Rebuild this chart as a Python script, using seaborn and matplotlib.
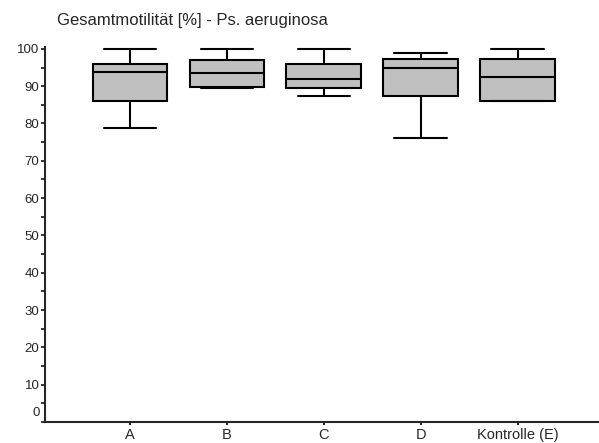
import numpy as np
import pandas as pd
import seaborn as sns
import matplotlib
matplotlib.use("Agg")
import matplotlib.pyplot as plt
import matplotlib.transforms as mtransforms

categories = ["A", "B", "C", "D", "Kontrolle (E)"]
whisker_low = [78.7, 89.8, 87.5, 76.1, 86.0]
q1 = [86.0, 89.5, 89.4, 87.4, 86.0]
median = [93.9, 93.5, 91.9, 94.9, 92.4]
q3 = [95.9, 96.9, 96.0, 97.4, 97.3]
whisker_high = [100.0, 100.0, 100.0, 98.8, 100.0]
yticks = [0, 10, 20, 30, 40, 50, 60, 70, 80, 90, 100]
title = "Gesamtmotilität [%] - Ps. aeruginosa"

rows = []
for c, a, b, m, d, e in zip(categories, whisker_low, q1, median, q3, whisker_high):
    for v in (a, b, m, d, e):
        rows.append({"group": c, "value": v})
df = pd.DataFrame(rows)

sns.set_style("ticks")
plt.rcParams["font.family"] = ["Liberation Sans", "DejaVu Sans"]

fig = plt.figure(figsize=(5.99, 4.43), dpi=100)
ax = fig.add_axes([45 / 599, 1 - 422 / 443, 1 - 45 / 599, (422 - 47) / 443])

sns.boxplot(data=df, x="group", y="value", order=categories, whis=(0, 100),
            width=0.77, color="#c0c0c0", linecolor="black", linewidth=1.5,
            fill=True, saturation=1, capwidths=0.54, ax=ax,
            medianprops={"color": "black", "linewidth": 1.5})
for p in ax.patches:
    p.set_facecolor("#c0c0c0")

ax.set_xlim(-0.876, 4.84)
ax.set_ylim(0, 100.5)
ax.set_yticks(yticks)
ax.set_yticks(np.arange(5, 100, 10), minor=True)
ax.set_yticklabels([str(t) for t in yticks])
ax.tick_params(axis="y", which="both", length=3, width=1.3, direction="out", labelsize=9.5, pad=1)
ax.tick_params(axis="x", length=2.5, width=1.5, direction="out", labelsize=10.5, pad=2)
ax.set_xlabel("")
ax.set_ylabel("")
for s in ["top", "right"]:
    ax.spines[s].set_visible(False)
for s in ["left", "bottom"]:
    ax.spines[s].set_linewidth(1.5)

lab0 = ax.get_yticklabels()[0]
lab0.set_transform(lab0.get_transform() + mtransforms.ScaledTranslation(0, 10 / 100, fig.dpi_scale_trans))

fig.text(57 / 599, 1 - 20 / 443, title, fontsize=12, ha="left", va="center")

fig.savefig("out.png", dpi=100)
